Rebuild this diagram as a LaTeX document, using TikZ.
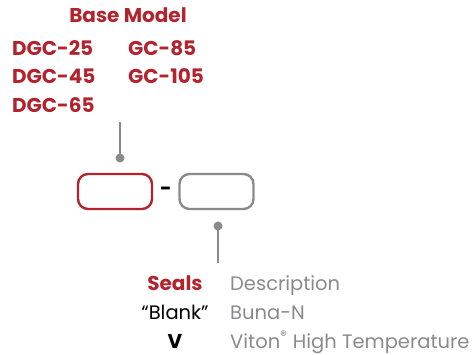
\documentclass[tikz,border=0pt]{standalone}
\usepackage{fontspec}
\setmainfont{Poppins}
\definecolor{brandred}{HTML}{B3232D}
\definecolor{midgray}{HTML}{8A8A8D}
\begin{document}
\begin{tikzpicture}[x=1pt,y=-1pt,
  redlbl/.style={text=brandred,font=\fontsize{20}{20}\selectfont\bfseries,inner sep=0pt},
  blklbl/.style={text=black,font=\fontsize{19.5}{20}\selectfont,inner sep=0pt},
  graylbl/.style={text=midgray,font=\fontsize{19.5}{20}\selectfont,inner sep=0pt},
  slot/.style={draw,rounded corners=10pt,line width=2.4pt,minimum width=74pt,minimum height=35pt,inner sep=0pt},
  dotnode/.style={circle,fill=midgray,inner sep=0pt,minimum size=9pt},
  lead/.style={draw=midgray,line width=1.3pt}]
\useasboundingbox (0,0) rectangle (474,355);
\node[redlbl,anchor=base] (title) at (128,23) {Base Model};
\node[redlbl,anchor=base west] (m1) at (12,56) {DGC-25};
\node[redlbl,anchor=base west] (m2) at (128,56) {GC-85};
\node[redlbl,anchor=base west] (m3) at (12,84) {DGC-45};
\node[redlbl,anchor=base west] (m4) at (128,84) {GC-105};
\node[redlbl,anchor=base west] (m5) at (12,113) {DGC-65};
\coordinate (topstart) at (120,122);
\node[dotnode] (dot1) at (120,158) {};
\draw[lead] (topstart) -- (dot1.center);
\node[slot,draw=brandred] (box1) at (115,191.5) {};
\node[text=black,font=\fontsize{20}{20}\selectfont\bfseries,inner sep=0pt] (dash) at (166,191) {-};
\node[slot,draw=midgray] (box2) at (216.5,191.5) {};
\node[dotnode] (dot2) at (218,226) {};
\coordinate (botend) at (218,263);
\draw[lead] (dot2.center) -- (botend);
\node[redlbl,anchor=base] (seals) at (175,291) {Seals};
\node[graylbl,anchor=base west] (desc) at (230,291) {Description};
\node[blklbl,anchor=base] (blank) at (175,320) {“Blank”};
\node[graylbl,anchor=base west] (buna) at (230,320) {Buna-N};
\node[text=black,font=\fontsize{20}{20}\selectfont\bfseries,inner sep=0pt,anchor=base] (vcode) at (175,348.5) {V};
\node[graylbl,anchor=base west] (viton) at (230,348.5) {Viton\textsuperscript{®} High Temperature};
\end{tikzpicture}
\end{document}
